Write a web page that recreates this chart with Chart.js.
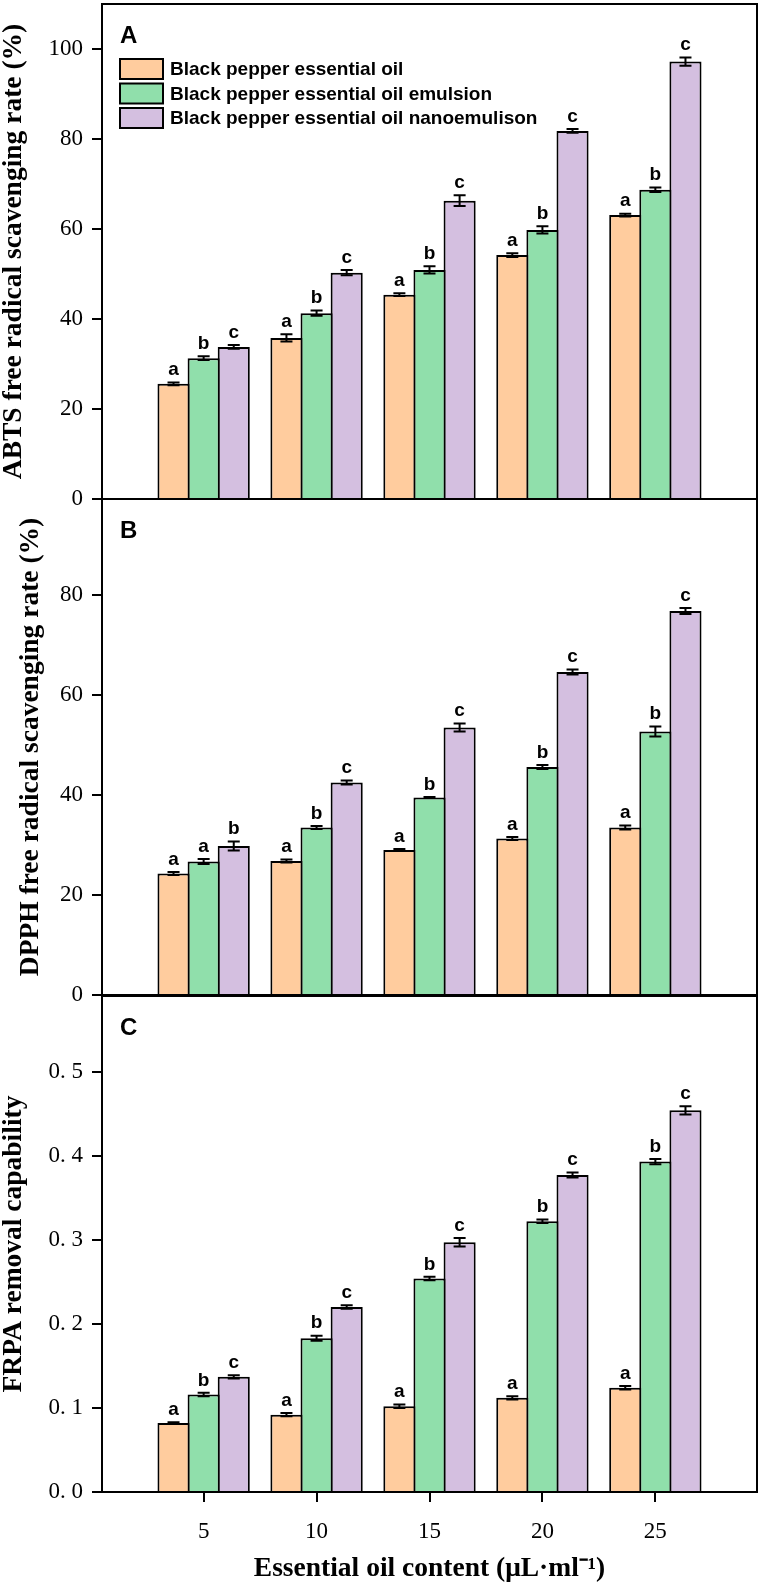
<!DOCTYPE html>
<html>
<head>
<meta charset="utf-8">
<script src="https://cdn.jsdelivr.net/npm/chart.js@4.4.0/dist/chart.umd.min.js"></script>
<style>
  html, body { margin: 0; padding: 0; background: #fff; }
  #wrap { position: relative; width: 762px; height: 1583px; }
  #wrap canvas { position: absolute; left: 0; top: 0; }
</style>
</head>
<body>
<div id="wrap">
  <canvas id="chartA" width="762" height="1583"></canvas>
  <canvas id="chartB" width="762" height="1583"></canvas>
  <canvas id="chartC" width="762" height="1583"></canvas>
</div>
<script>
// categories (essential oil content, µL/ml)
const categories = [5, 10, 15, 20, 25];
const xTicks = [5, 10, 15, 20, 25];
const seriesNames = [
    'Black pepper essential oil',
    'Black pepper essential oil emulsion',
    'Black pepper essential oil nanoemulison'
];
const seriesColors = ['#FFCC9E', '#90DFAB', '#D4BFE0'];

// A - ABTS
const abtsOil = [25.6, 35.8, 45.4, 54.2, 63.1];
const abtsEmulsion = [31.3, 41.3, 50.9, 59.8, 68.7];
const abtsNano = [33.8, 50.3, 66.3, 81.8, 97.2];
const abtsOilErr = [0.3, 0.8, 0.3, 0.4, 0.3];
const abtsEmulsionErr = [0.4, 0.6, 0.8, 0.8, 0.5];
const abtsNanoErr = [0.4, 0.6, 1.2, 0.4, 0.9];
const abtsOilLetters = ['a', 'a', 'a', 'a', 'a'];
const abtsEmulsionLetters = ['b', 'b', 'b', 'b', 'b'];
const abtsNanoLetters = ['c', 'c', 'c', 'c', 'c'];
const abtsTicks = [0, 20, 40, 60, 80, 100];

// B - DPPH
const dpphOil = [24.3, 26.8, 29.0, 31.3, 33.5];
const dpphEmulsion = [26.7, 33.5, 39.5, 45.6, 52.7];
const dpphNano = [29.8, 42.5, 53.5, 64.6, 76.8];
const dpphOilErr = [0.3, 0.3, 0.2, 0.3, 0.4];
const dpphEmulsionErr = [0.5, 0.3, 0.1, 0.4, 1.0];
const dpphNanoErr = [0.9, 0.4, 0.8, 0.5, 0.6];
const dpphOilLetters = ['a', 'a', 'a', 'a', 'a'];
const dpphEmulsionLetters = ['a', 'b', 'b', 'b', 'b'];
const dpphNanoLetters = ['b', 'c', 'c', 'c', 'c'];
const dpphTicks = [0, 20, 40, 60, 80];

// C - FRPA
const frpaOil = [0.082, 0.092, 0.102, 0.112, 0.124];
const frpaEmulsion = [0.116, 0.183, 0.254, 0.322, 0.393];
const frpaNano = [0.137, 0.220, 0.297, 0.377, 0.454];
const frpaOilErr = [0.001, 0.002, 0.002, 0.002, 0.002];
const frpaEmulsionErr = [0.002, 0.003, 0.002, 0.002, 0.003];
const frpaNanoErr = [0.002, 0.002, 0.005, 0.003, 0.005];
const frpaOilLetters = ['a', 'a', 'a', 'a', 'a'];
const frpaEmulsionLetters = ['b', 'b', 'b', 'b', 'b'];
const frpaNanoLetters = ['c', 'c', 'c', 'c', 'c'];
const frpaTicks = [0, 0.1, 0.2, 0.3, 0.4, 0.5];

const serif = 'Liberation Serif';
const sans = 'Liberation Sans';

// frame round the plot area
const framePlugin = {
    id: 'frame',
    afterDraw(chart) {
        const a = chart.chartArea, ctx = chart.ctx;
        ctx.save();
        ctx.strokeStyle = '#000';
        ctx.lineWidth = 2;
        ctx.strokeRect(a.left, a.top, a.right - a.left, a.bottom - a.top);
        ctx.restore();
    }
};

// error bars + significance letters
const errorBarPlugin = {
    id: 'errorBars',
    afterDatasetsDraw(chart) {
        const ctx = chart.ctx, yScale = chart.scales.y;
        ctx.save();
        chart.data.datasets.forEach((ds, di) => {
            const meta = chart.getDatasetMeta(di);
            meta.data.forEach((bar, i) => {
                const v = ds.data[i].y, e = ds.errors[i];
                const yTop = yScale.getPixelForValue(v + e);
                const yBot = yScale.getPixelForValue(v - e);
                ctx.strokeStyle = '#000';
                ctx.lineWidth = 2;
                ctx.beginPath();
                ctx.moveTo(bar.x, yTop); ctx.lineTo(bar.x, yBot);
                ctx.moveTo(bar.x - 6, yTop); ctx.lineTo(bar.x + 6, yTop);
                ctx.moveTo(bar.x - 6, yBot); ctx.lineTo(bar.x + 6, yBot);
                ctx.stroke();
                ctx.fillStyle = '#000';
                ctx.font = 'bold 19px ' + sans;
                ctx.textAlign = 'center';
                ctx.textBaseline = 'bottom';
                ctx.fillText(ds.letters[i], bar.x, yTop - 3);
            });
        });
        ctx.restore();
    }
};

// panel letter (A, B, C)
const panelTagPlugin = {
    id: 'panelTag',
    afterDraw(chart, args, opts) {
        const a = chart.chartArea, ctx = chart.ctx;
        ctx.save();
        ctx.fillStyle = '#000';
        ctx.font = 'bold 24px ' + sans;
        ctx.textAlign = 'left';
        ctx.textBaseline = 'alphabetic';
        ctx.fillText(opts.text, a.left + 18, a.top + 39);
        ctx.restore();
    }
};

// legend inside the plot of panel A
const insideLegendPlugin = {
    id: 'insideLegend',
    afterDraw(chart, args, opts) {
        if (!opts.display) return;
        const a = chart.chartArea, ctx = chart.ctx;
        ctx.save();
        chart.data.datasets.forEach((ds, i) => {
            const cy = a.top + 65 + i * 24.5;
            const bx = a.left + 18;
            ctx.fillStyle = ds.backgroundColor;
            ctx.fillRect(bx, cy - 10, 43, 20);
            ctx.strokeStyle = '#000';
            ctx.lineWidth = 2;
            ctx.strokeRect(bx, cy - 10, 43, 20);
            ctx.fillStyle = '#000';
            ctx.font = 'bold 19px ' + sans;
            ctx.textAlign = 'left';
            ctx.textBaseline = 'middle';
            ctx.fillText(ds.label, bx + 50, cy + 1);
        });
        ctx.restore();
    }
};

function makeDatasets(values, errors, letters) {
    return values.map((vals, s) => ({
        label: seriesNames[s],
        data: categories.map((c, i) => ({ x: c, y: vals[i] })),
        errors: errors[s],
        letters: letters[s],
        backgroundColor: seriesColors[s],
        borderColor: '#000',
        borderWidth: 2,
        borderSkipped: 'start',
        categoryPercentage: 0.8,
        barPercentage: 1.066
    }));
}

function makePanel(id, cfg) {
    const xScale = {
        type: 'linear',
        min: 0.5,
        max: 29.5,
        offset: false,
        display: cfg.showX,
        afterBuildTicks(scale) { scale.ticks = xTicks.map(v => ({ value: v })); },
        ticks: { color: '#000', font: { family: serif, size: 23 }, padding: 16, maxRotation: 0, autoSkip: false },
        grid: { offset: false, drawOnChartArea: false, drawTicks: true, tickLength: 10, color: '#000', lineWidth: 2 },
        border: { display: true, color: '#000', width: 2 },
        title: {
            display: true,
            text: 'Essential oil content (μL·ml⁻¹)',
            color: '#000',
            font: { family: serif, size: 27.5, weight: 'bold', lineHeight: 1 },
            padding: { top: 0, bottom: 0 }
        },
        afterFit(scale) {
            if (cfg.showX) scale.height = 1583 - cfg.bottom;
            scale.paddingLeft = 0; scale.paddingRight = 0;
        }
    };
    return new Chart(document.getElementById(id), {
        type: 'bar',
        data: { datasets: makeDatasets(cfg.values, cfg.errors, cfg.letters) },
        options: {
            responsive: false,
            animation: false,
            layout: { padding: { left: 0, right: 5, top: cfg.top, bottom: cfg.showX ? 0 : 1583 - cfg.bottom } },
            scales: {
                x: xScale,
                y: {
                    min: 0,
                    max: cfg.yMax,
                    afterBuildTicks(scale) { scale.ticks = cfg.yTicks.map(v => ({ value: v })); },
                    ticks: { color: '#000', font: { family: serif, size: 23 }, padding: 9, callback: cfg.fmt },
                    grid: { drawOnChartArea: false, drawTicks: true, tickLength: 10, color: '#000', lineWidth: 2 },
                    border: { display: true, color: '#000', width: 2 },
                    title: {
                        display: true,
                        text: cfg.yTitle,
                        color: '#000',
                        font: { family: serif, size: 27.5, weight: 'bold', lineHeight: 1 },
                        padding: { top: cfg.titlePad, bottom: 0 }
                    },
                    afterFit(scale) { scale.width = 102; scale.paddingTop = 0; scale.paddingBottom = 0; }
                }
            },
            plugins: {
                legend: { display: false },
                tooltip: { enabled: false },
                panelTag: { text: cfg.tag },
                insideLegend: { display: cfg.legend }
            }
        },
        plugins: [framePlugin, errorBarPlugin, panelTagPlugin, insideLegendPlugin]
    });
}

makePanel('chartA', {
    tag: 'A', top: 4, bottom: 499, yMax: 110, yTicks: abtsTicks, showX: false, legend: true,
    yTitle: 'ABTS free radical scavenging rate (%)', titlePad: 0,
    fmt: v => String(v),
    values: [abtsOil, abtsEmulsion, abtsNano],
    errors: [abtsOilErr, abtsEmulsionErr, abtsNanoErr],
    letters: [abtsOilLetters, abtsEmulsionLetters, abtsNanoLetters]
});

makePanel('chartB', {
    tag: 'B', top: 499, bottom: 995, yMax: 99.2, yTicks: dpphTicks, showX: false, legend: false,
    yTitle: 'DPPH free radical scavenging rate (%)', titlePad: 17,
    fmt: v => String(v),
    values: [dpphOil, dpphEmulsion, dpphNano],
    errors: [dpphOilErr, dpphEmulsionErr, dpphNanoErr],
    letters: [dpphOilLetters, dpphEmulsionLetters, dpphNanoLetters]
});

makePanel('chartC', {
    tag: 'C', top: 996, bottom: 1492, yMax: 0.59, yTicks: frpaTicks, showX: true, legend: false,
    yTitle: 'FRPA removal capability', titlePad: 0,
    fmt: v => v.toFixed(1).replace('.', '. '),
    values: [frpaOil, frpaEmulsion, frpaNano],
    errors: [frpaOilErr, frpaEmulsionErr, frpaNanoErr],
    letters: [frpaOilLetters, frpaEmulsionLetters, frpaNanoLetters]
});
</script>
</body>
</html>
